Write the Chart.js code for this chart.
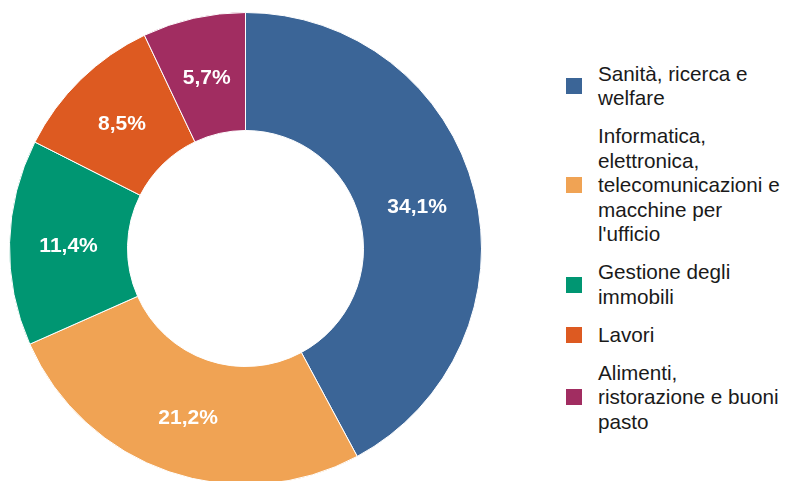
<!DOCTYPE html>
<html>
<head>
<meta charset="utf-8">
<script src="https://cdn.jsdelivr.net/npm/chart.js@4"></script>
<style>
  html, body { margin: 0; padding: 0; background: #fff; overflow: hidden; }
  body { width: 787px; height: 481px; position: relative; font-family: "Liberation Sans", Arial, sans-serif; }
  #wrap { position: absolute; left: 9px; top: 12px; width: 473px; height: 473px; }
  #legend { position: absolute; left: 566px; top: 61.5px; }
  .item { display: flex; align-items: center; margin-bottom: 13.5px; }
  .box { width: 16px; height: 16px; margin-right: 16px; flex: none; }
  .txt { font-size: 20.7px; line-height: 24.5px; color: #1a1a1a; white-space: nowrap; }
</style>
</head>
<body>
<div id="wrap"><canvas id="chart"></canvas></div>
<div id="legend"></div>
<script>
// categories (multi-line, as wrapped in the legend)
const categories = [
  ['Sanità, ricerca e', 'welfare'],
  ['Informatica,', 'elettronica,', 'telecomunicazioni e', 'macchine per', "l'ufficio"],
  ['Gestione degli', 'immobili'],
  ['Lavori'],
  ['Alimenti,', 'ristorazione e buoni', 'pasto']
];
const values = [34.1, 21.2, 11.4, 8.5, 5.7];
const colors = ['#3B6597', '#F0A354', '#009672', '#DD5A21', '#A12D61'];

const fmt = (v) => v.toFixed(1).replace('.', ',') + '%';

const sliceLabels = {
  id: 'sliceLabels',
  afterDatasetsDraw(chart) {
    const ctx = chart.ctx;
    const meta = chart.getDatasetMeta(0);
    ctx.save();
    ctx.fillStyle = '#fff';
    ctx.font = 'bold 21px "Liberation Sans", Arial, sans-serif';
    ctx.textAlign = 'center';
    ctx.textBaseline = 'middle';
    meta.data.forEach((arc, i) => {
      const p = arc.tooltipPosition();
      ctx.fillText(fmt(values[i]), p.x, p.y + 2);
    });
    ctx.restore();
  }
};

new Chart(document.getElementById('chart'), {
  type: 'doughnut',
  data: {
    labels: categories,
    datasets: [{
      data: values,
      backgroundColor: colors,
      borderColor: '#fff',
      borderWidth: 1
    }]
  },
  options: {
    responsive: true,
    maintainAspectRatio: false,
    animation: false,
    cutout: '50%',
    layout: { padding: 0 },
    plugins: {
      legend: { display: false },
      tooltip: { enabled: false }
    }
  },
  plugins: [sliceLabels]
});

const legend = document.getElementById('legend');
categories.forEach((lines, i) => {
  const item = document.createElement('div');
  item.className = 'item';
  const box = document.createElement('div');
  box.className = 'box';
  box.style.background = colors[i];
  const txt = document.createElement('div');
  txt.className = 'txt';
  txt.innerHTML = lines.join('<br>');
  item.appendChild(box);
  item.appendChild(txt);
  legend.appendChild(item);
});
</script>
</body>
</html>
